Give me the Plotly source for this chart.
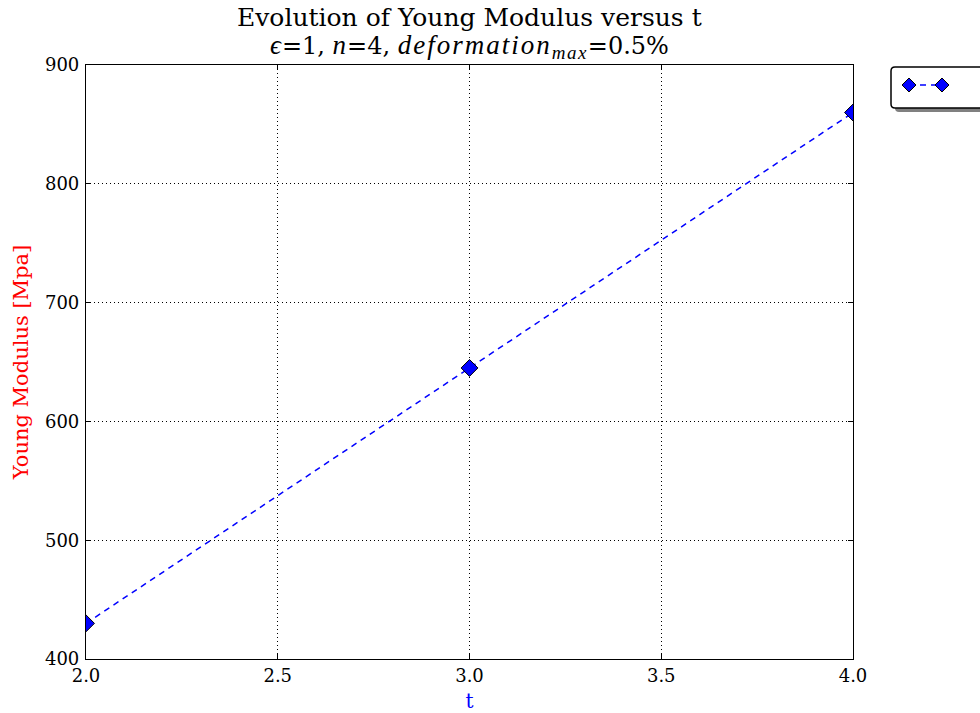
import plotly.graph_objects as go

t_values = [2.0, 3.0, 4.0]
young_modulus = [430, 645, 860]
x_ticks = [2.0, 2.5, 3.0, 3.5, 4.0]
y_ticks = [400, 500, 600, 700, 800, 900]

FONT = "DejaVu Serif"
W, H = 980, 713
L, R, T, B = 86, 853, 65, 659

fig = go.Figure()
fig.add_trace(go.Scatter(
    x=t_values, y=young_modulus, mode="lines+markers",
    line=dict(color="blue", width=1.5, dash="6px,5px"),
    marker=dict(symbol="diamond", size=13, color="blue", line=dict(color="black", width=1)),
    showlegend=False,
))

axis_common = dict(
    showline=True, linecolor="black", linewidth=1.2, mirror="ticks",
    ticks="inside", ticklen=5, tickcolor="black", tickwidth=1,
    showgrid=True, gridcolor="black", gridwidth=1, griddash="1px,3px",
    zeroline=False, tickfont=dict(family=FONT, size=18, color="black"),
)

fig.update_xaxes(range=[2.0, 4.0], tickvals=x_ticks,
                 ticktext=[f"{v:.1f}" for v in x_ticks],
                 title=dict(text="t", font=dict(family=FONT, size=20, color="blue"), standoff=12),
                 **axis_common)
fig.update_yaxes(range=[400, 900], tickvals=y_ticks,
                 ticktext=[str(v) for v in y_ticks], ticklabelstandoff=2,
                 title=dict(text="Young Modulus [Mpa]", font=dict(family=FONT, size=21, color="red"), standoff=10),
                 **axis_common)

# Title (two lines)
fig.add_annotation(text="Evolution of Young Modulus versus t", xref="paper", yref="paper",
                   x=0.5, y=1, xanchor="center", yanchor="bottom", yshift=31, showarrow=False,
                   font=dict(family=FONT, size=25, color="black"))


def it(s, size, ls):
    return (f"<span style=\"font-family:'Liberation Serif';font-size:{size}px;"
            f"letter-spacing:{ls}px\"><i>{s}</i></span>")


subtitle = (f"{it('ϵ', 27, 1)}=1, {it('n', 27, 1)}=4, {it('deformation', 27, 2)}"
            f"<sub>{it('max', 19, 1.5)}</sub>=0.5%")
fig.add_annotation(text=subtitle, xref="paper", yref="paper",
                   x=0.5, y=1, xanchor="center", yanchor="bottom", yshift=0, showarrow=False,
                   font=dict(family=FONT, size=24, color="black"))

# Legend box (custom, matplotlib-style with shadow)
def rrect(x0, y0, x1, y1, r):
    return (f"M{x0+r},{y0} L{x1-r},{y0} Q{x1},{y0} {x1},{y0-r} L{x1},{y1+r} Q{x1},{y1} {x1-r},{y1} "
            f"L{x0+r},{y1} Q{x0},{y1} {x0},{y1+r} L{x0},{y0-r} Q{x0},{y0} {x0+r},{y0} Z")

common = dict(xref="paper", yref="paper", xsizemode="pixel", ysizemode="pixel",
              xanchor=1, yanchor=1)
fig.add_shape(type="path", path=rrect(42, -6, 140, -47, 4), fillcolor="#808080",
              line=dict(width=0), **common)
fig.add_shape(type="path", path=rrect(38, -2, 140, -43, 4), fillcolor="white",
              line=dict(color="black", width=1.5), **common)
fig.add_shape(type="line", x0=56, x1=89, y0=-20, y1=-20,
              line=dict(color="blue", width=1.5, dash="6px,5px"), **common)
for cx in (56, 89):
    fig.add_shape(type="path",
                  path=f"M{cx},{-20+7} L{cx+7},{-20} L{cx},{-20-7} L{cx-7},{-20} Z",
                  fillcolor="blue", line=dict(color="black", width=1), **common)

fig.update_layout(
    width=W, height=H,
    margin=dict(l=L, r=W - R, t=T, b=H - B, autoexpand=False),
    paper_bgcolor="white", plot_bgcolor="white",
    font=dict(family=FONT, color="black"),
)

fig.write_html("out.html", config={"displayModeBar": False})

# remove default page margin so the figure sits at the window's top-left corner
with open("out.html", encoding="utf-8") as f:
    html = f.read()
html = html.replace("<body>", '<body style="margin:0;overflow:hidden">', 1)
with open("out.html", "w", encoding="utf-8") as f:
    f.write(html)
